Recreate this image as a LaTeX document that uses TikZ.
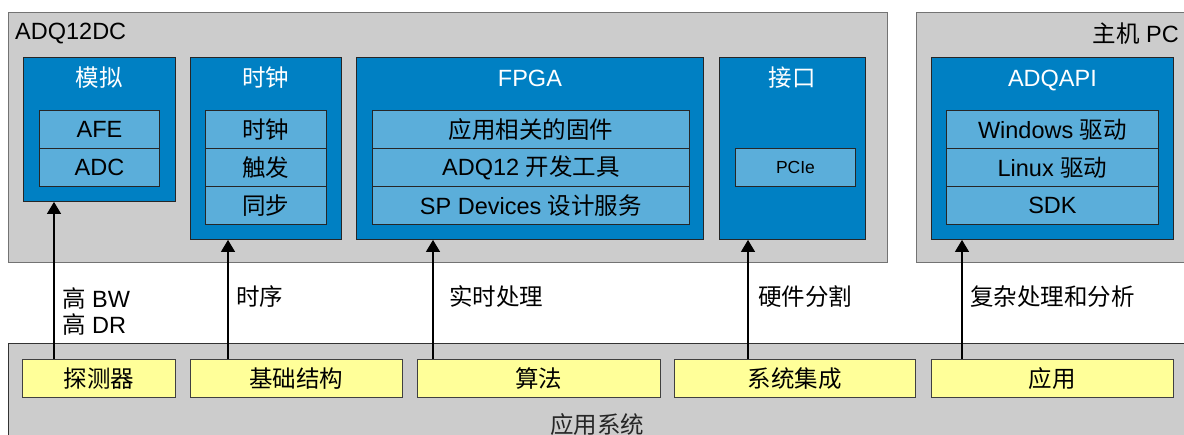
\documentclass[tikz,border=0pt]{standalone}
\usepackage{fontspec}
\setmainfont{Liberation Sans}
\newfontfamily\cjk{Noto Sans CJK SC}
\usetikzlibrary{arrows.meta}
\usetikzlibrary{positioning}

\definecolor{framegray}{HTML}{CCCCCC}
\definecolor{blkblue}{HTML}{0080C3}
\definecolor{rowblue}{HTML}{5BAEDA}
\definecolor{appyellow}{HTML}{FFFF99}

\begin{document}
\begin{tikzpicture}[x=1pt, y=-1pt,
every node/.style={font=\fontsize{23.5}{26}\selectfont},
frame/.style={draw=black!55, fill=framegray, line width=1.2pt, anchor=north west, inner sep=0pt},
blk/.style={draw=black!85, fill=blkblue, line width=0.9pt, anchor=north west, inner sep=0pt},
row/.style={draw=black!85, fill=rowblue, line width=0.9pt, anchor=north west, inner sep=0pt, minimum height=38},
app/.style={draw=black!75, fill=appyellow, line width=0.9pt, anchor=north west, inner sep=0pt, minimum height=38},
ttl/.style={text=white, anchor=base, inner sep=0pt},
lbl/.style={anchor=base west, inner sep=0pt},
arr/.style={-{Triangle[width=14pt,length=12pt]}, line width=1.1pt}]
\useasboundingbox (0,0) rectangle (1184,435);

% card and host
\node[frame, minimum width=879, minimum height=250] (card) at (8,12) {};
\node[frame, minimum width=320, minimum height=250] (host) at (916,12) {};
\node[lbl] (cardname) at (15,40) {ADQ12DC};
\node[lbl, anchor=base east] (hostname) at (1179,43) {{\cjk 主机} PC};

% analog
\node[blk, minimum width=152, minimum height=144] (ana) at (23,57) {};
\node[ttl] at ([yshift=-30pt]ana.north) {\cjk 模拟};
\node[row, minimum width=120] (afe) at (39,110) {AFE};
\node[row, minimum width=120] (adc) at (39,148) {ADC};

% clock
\node[blk, minimum width=151, minimum height=182] (clk) at (190,57) {};
\node[ttl] at ([yshift=-30pt]clk.north) {\cjk 时钟};
\node[row, minimum width=121] (clkr) at (205,110) {\cjk 时钟};
\node[row, minimum width=121] (trig) at (205,148) {\cjk 触发};
\node[row, minimum width=121] (sync) at (205,186) {\cjk 同步};

% fpga
\node[blk, minimum width=347, minimum height=182] (fpga) at (356,57) {};
\node[ttl] at ([yshift=-30pt]fpga.north) {FPGA};
\node[row, minimum width=317] (fw) at (372,110) {\cjk 应用相关的固件};
\node[row, minimum width=317] (dev) at (372,148) {ADQ12 {\cjk 开发工具}};
\node[row, minimum width=317] (svc) at (372,186) {SP Devices {\cjk 设计服务}};

% interface
\node[blk, minimum width=146, minimum height=182] (intf) at (719,57) {};
\node[ttl] at ([yshift=-30pt]intf.north) {\cjk 接口};
\node[row, minimum width=120, font=\fontsize{17.5}{20}\selectfont] (pcie) at (735,148) {PCIe};

% api
\node[blk, minimum width=242, minimum height=182] (api) at (931,57) {};
\node[ttl] at ([yshift=-30pt]api.north) {ADQAPI};
\node[row, minimum width=212] (win) at (946,110) {Windows {\cjk 驱动}};
\node[row, minimum width=212] (lnx) at (946,148) {Linux {\cjk 驱动}};
\node[row, minimum width=212] (sdk) at (946,186) {SDK};

% application system
\node[frame, draw=black!80, minimum width=1200, minimum height=110] (sys) at (8,343) {};
\node[app, minimum width=153] (det) at (22,359) {\cjk 探测器};
\node[app, minimum width=212] (infra) at (190,359) {\cjk 基础结构};
\node[app, minimum width=243] (algo) at (417,359) {\cjk 算法};
\node[app, minimum width=241] (integ) at (674,359) {\cjk 系统集成};
\node[app, minimum width=242] (appl) at (931,359) {\cjk 应用};
\node[anchor=base, inner sep=0pt, text=black!85] (sysname) at (597,434) {\cjk 应用系统};

% links
\coordinate (a1) at (54,0);
\coordinate (a2) at (228,0);
\coordinate (a3) at (433,0);
\coordinate (a4) at (748,0);
\coordinate (a5) at (962,0);
\draw[arr] (a1 |- det.north) -- (a1 |- ana.south);
\draw[arr] (a2 |- infra.north) -- (a2 |- clk.south);
\draw[arr] (a3 |- algo.north) -- (a3 |- fpga.south);
\draw[arr] (a4 |- integ.north) -- (a4 |- intf.south);
\draw[arr] (a5 |- appl.north) -- (a5 |- api.south);

\node[anchor=north west, inner sep=0pt, align=left] (l1) at (62,287) {{\cjk 高} BW\\{\cjk 高} DR};
\node[lbl] (l2) at (236,306) {\cjk 时序};
\node[lbl] (l3) at (449,306) {\cjk 实时处理};
\node[lbl] (l4) at (758,306) {\cjk 硬件分割};
\node[lbl] (l5) at (970,306) {\cjk 复杂处理和分析};
\end{tikzpicture}
\end{document}
